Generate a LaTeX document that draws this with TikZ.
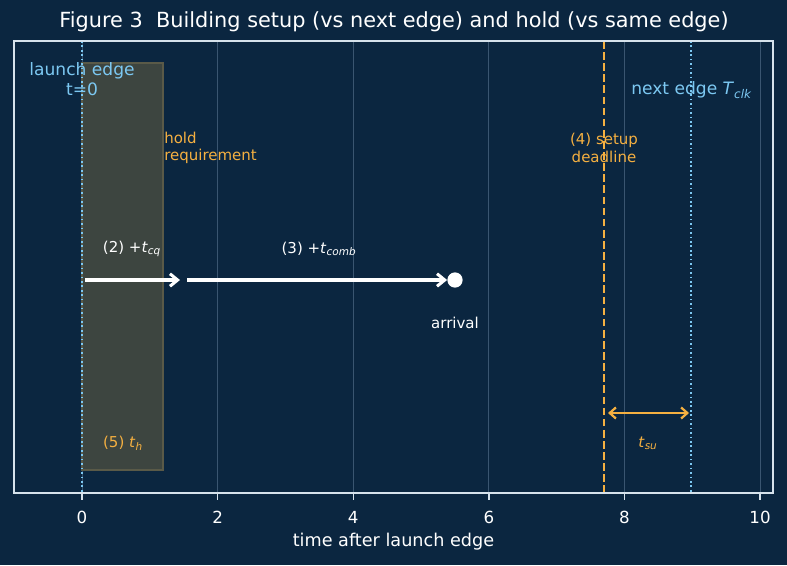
\documentclass[tikz,border=0pt]{standalone}
\usepackage{fontspec}
\setmainfont{DejaVu Sans}
\usetikzlibrary{arrows.meta}

\definecolor{bgnavy}{HTML}{0B2640}
\definecolor{framec}{HTML}{D6E2EC}
\definecolor{gridc}{HTML}{3A5570}
\definecolor{edgeblue}{HTML}{7CC8F2}
\definecolor{amber}{HTML}{F5B041}
\definecolor{holdfill}{HTML}{3D4540}
\definecolor{holdline}{HTML}{5A5A48}

\newcommand{\tsub}[2]{\textit{#1}\textsubscript{\textit{#2}}}

\begin{document}
\begin{tikzpicture}[
		x=0.72pt, y=-0.72pt,
		gridline/.style={gridc, line width=0.6pt},
		edgeline/.style={edgeblue, line width=1.6pt, dash pattern=on 1.2pt off 2pt},
		flow/.style={-{Straight Barb[length=5.5pt,width=9pt,line width=2.2pt]}, white, line width=2.4pt},
		span/.style={{Straight Barb[length=4.5pt,width=8pt,line width=1.6pt]}-{Straight Barb[length=4.5pt,width=8pt,line width=1.6pt]}, amber, line width=1.6pt},
		lbl/.style={font=\fontsize{10.8}{12.6}\selectfont, inner sep=0pt},
		ticklbl/.style={font=\fontsize{12}{13}\selectfont, text=white, inner sep=0pt}
		]
		
		% background and plot frame
		\fill[bgnavy] (0,0) rectangle (787,565);
		\useasboundingbox (0,0) rectangle (787,565);
		
		% grid, ticks and tick labels
		\foreach \t in {0,2,...,10}{
			\draw[gridline] ({82+67.8*\t},41) -- ({82+67.8*\t},493);
			\draw[framec, line width=1pt] ({82+67.8*\t},493) -- ({82+67.8*\t},500);
			\node[ticklbl] (tick\t) at ({82+67.8*\t},517) {\t};
		}
		
		% hold window
		\fill[holdfill, draw=holdline, line width=0.8pt] (82,63) rectangle (163,470);
		
		% clock edges and setup deadline
		\coordinate (launchtop) at (82,41);
		\coordinate (launchbot) at (82,493);
		\coordinate (nexttop) at (691,41);
		\coordinate (nextbot) at (691,493);
		\coordinate (deadtop) at (604,41);
		\coordinate (deadbot) at (604,493);
		\draw[edgeline] (launchtop) -- (launchbot);
		\draw[edgeline] (nexttop) -- (nextbot);
		\draw[amber, line width=1.4pt, dash pattern=on 5.5pt off 2.5pt] (deadtop) -- (deadbot);
		
		\draw[framec, line width=1.1pt] (14,41) rectangle (773,493);
		
		% titles
		\node[font=\fontsize{15}{17}\selectfont, text=white] (title) at (394,22)
			{Figure 3\ \ Building setup (vs next edge) and hold (vs same edge)};
		\node[ticklbl, font=\fontsize{12.7}{14}\selectfont] (xlabel) at (393.5,542) {time after launch edge};
		
		% data path
		\coordinate (launch) at (85,280);
		\coordinate (cqend) at (180,280);
		\coordinate (combstart) at (187,280);
		\node[circle, fill=white, inner sep=0pt, minimum size=11pt] (arrival) at (455,280) {};
		\draw[flow] (launch) -- (cqend);
		\draw[flow] (combstart) -- (arrival.west);
		
		% setup margin
		\coordinate (sustart) at (608,413);
		\coordinate (suend) at (689,413);
		\draw[span] (sustart) -- (suend);
		
		% labels
		\node[lbl, text=edgeblue, font=\fontsize{12.3}{14}\selectfont, align=center] (launchlbl) at (82,79)
			{launch edge\\t=0};
		\node[lbl, text=edgeblue, font=\fontsize{12.3}{14}\selectfont, anchor=west] (nextlbl) at (631,90)
			{next edge \textit{T}\textsubscript{\textit{clk}}};
		\node[lbl, text=amber, align=left, anchor=west] (holdlbl) at (164,148)
			{hold\\requirement};
		\node[lbl, text=amber, align=center] (setuplbl) at (604,148)
			{(4) setup\\deadline};
		\node[lbl, text=white] (cqlbl) at (132,249) {(2) +\tsub{t}{cq}};
		\node[lbl, text=white] (comblbl) at (319,249) {(3) +\tsub{t}{comb}};
		\node[lbl, text=white] (arrivallbl) at (455,323) {arrival};
		\node[lbl, text=amber] (thlbl) at (123,443) {(5) \tsub{t}{h}};
		\node[lbl, text=amber] (sulbl) at (648,443) {\tsub{t}{su}};
		
	\end{tikzpicture}
\end{document}
